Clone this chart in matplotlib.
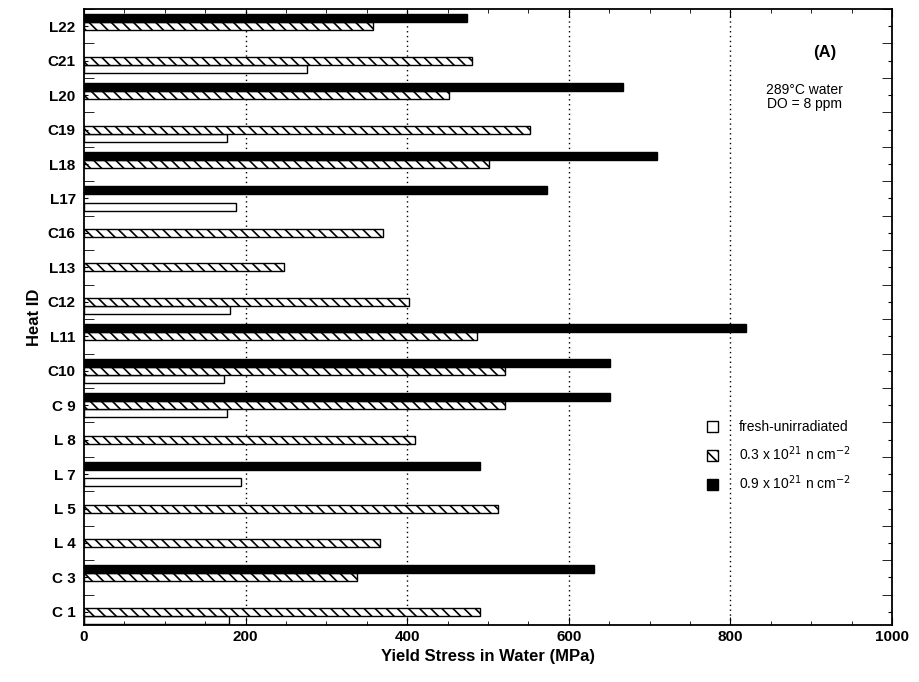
import numpy as np
import matplotlib
matplotlib.use("Agg")
from matplotlib import pyplot as plt
from matplotlib.ticker import MultipleLocator

plt.rcParams['font.family'] = ['Liberation Sans', 'DejaVu Sans']
plt.rcParams['hatch.linewidth'] = 1.2

# heats, bottom to top
heats = ['C 1', 'C 3', 'L 4', 'L 5', 'L 7', 'L 8', 'C 9', 'C10', 'L11',
         'C12', 'L13', 'C16', 'L17', 'L18', 'C19', 'L20', 'C21', 'L22']
# yield stress (MPa), nan = not tested
fresh = [180, np.nan, np.nan, np.nan, 194, np.nan, 177, 173, np.nan,
         181, np.nan, np.nan, 188, np.nan, 177, np.nan, 276, np.nan]
dose03 = [490, 338, 366, 512, np.nan, 410, 521, 521, 486,
          402, 248, 370, np.nan, 501, 552, 452, 480, 358]
dose09 = [np.nan, 631, np.nan, np.nan, 490, np.nan, 651, 651, 819,
          np.nan, np.nan, np.nan, 573, 709, np.nan, 667, np.nan, 474]
labels = ['fresh-unirradiated',
          r'0.3 x 10$^{21}$ n cm$^{-2}$',
          r'0.9 x 10$^{21}$ n cm$^{-2}$']

y = np.arange(len(heats))
h = 0.23
off = 0.235

fig = plt.figure(figsize=(9.19, 6.82), dpi=100)
ax = fig.add_axes([0.0914, 0.0836, 0.8792, 0.9032])

for xv in [200, 400, 600, 800]:
    ax.axvline(xv, color='black', linestyle=(0, (1, 2.5)), linewidth=1.0, zorder=0)

b1 = ax.barh(y - off, fresh, height=h, color='white', edgecolor='black', linewidth=1.0, label=labels[0])
b2 = ax.barh(y, dose03, height=h, color='white', edgecolor='black', linewidth=1.0, hatch='\\\\\\', label=labels[1])
b3 = ax.barh(y + off, dose09, height=h, color='black', edgecolor='black', linewidth=1.0, label=labels[2])

ax.set_xlim(0, 1000)
ax.set_ylim(-0.38, 17.5)
ax.set_yticks(y)
ax.set_yticklabels(heats, fontsize=11, fontweight='bold')
for t in ax.get_xticklabels():
    t.set_fontweight('bold')
ax.yaxis.set_minor_locator(MultipleLocator(0.5))
ax.xaxis.set_major_locator(MultipleLocator(200))
ax.xaxis.set_minor_locator(MultipleLocator(50))
ax.tick_params(axis='x', which='major', direction='in', length=6, top=True, labelsize=11)
ax.tick_params(axis='x', which='minor', direction='in', length=3, top=True)
ax.tick_params(axis='y', which='major', direction='in', length=3, right=True, pad=6)
ax.tick_params(axis='y', which='minor', direction='in', length=7, right=True)
for sp in ax.spines.values():
    sp.set_linewidth(1.3)

ax.set_xlabel('Yield Stress in Water (MPa)', fontsize=12, fontweight='bold')
ax.set_ylabel('Heat ID', fontsize=12, fontweight='bold')

ax.text(0.917, 0.930, '(A)', transform=ax.transAxes, fontsize=12, fontweight='bold', ha='center', va='center')
ax.text(0.892, 0.857, '289°C water\nDO = 8 ppm', transform=ax.transAxes, fontsize=10,
        ha='center', va='center', multialignment='center', linespacing=1.0)

ax.legend(handles=[b1, b2, b3], loc='center left', bbox_to_anchor=(0.756, 0.274), frameon=False,
          fontsize=10, handlelength=0.8, handleheight=0.8, labelspacing=0.75, handletextpad=1.5)

fig.savefig('out.png', dpi=100)
